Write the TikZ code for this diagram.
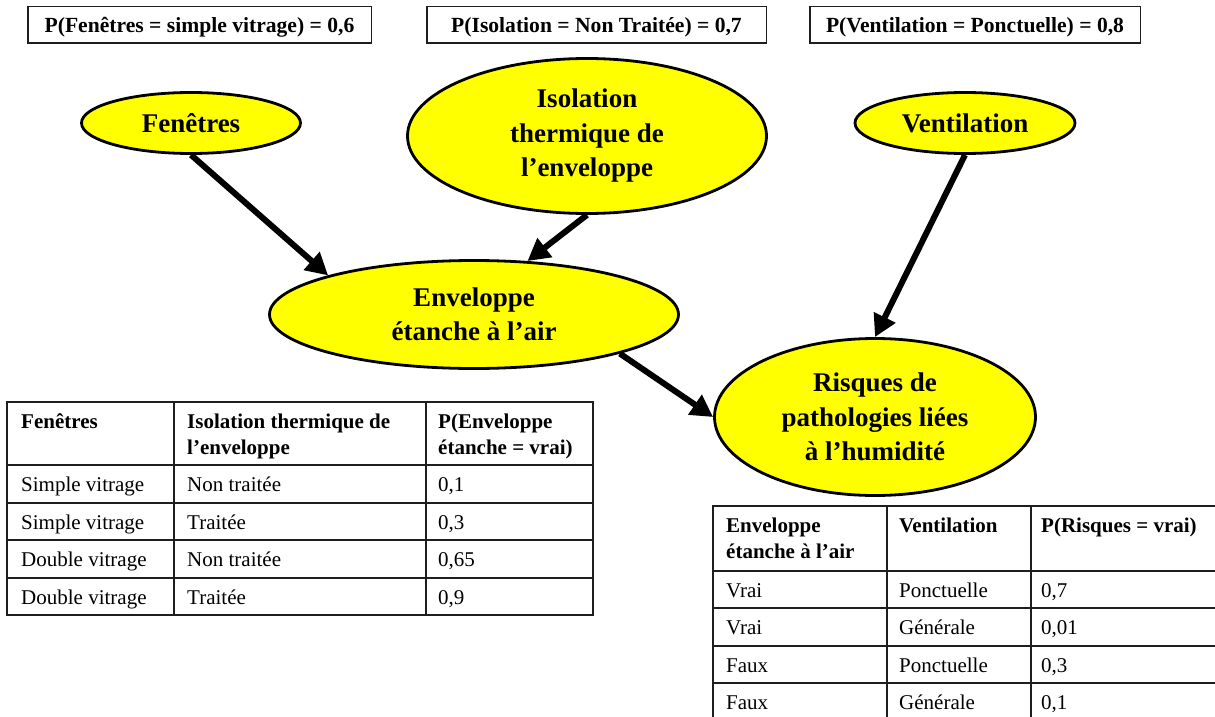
\documentclass[tikz,border=0pt]{standalone}
\usepackage{fontspec}
\setmainfont{Liberation Serif}
\usetikzlibrary{shapes.geometric,arrows.meta}
\definecolor{nodeyellow}{RGB}{255,255,0}
\definecolor{gridgray}{RGB}{30,30,30}
\begin{document}
\begin{tikzpicture}[x=1pt,y=-1pt,
  ell/.style={ellipse, draw=black, line width=2.8pt, fill=nodeyellow, inner sep=0pt, align=center, font=\fontsize{27}{34.5}\selectfont\bfseries},
  pbox/.style={draw=gridgray, line width=1.5pt, inner sep=0pt, minimum height=36.5pt, text height=15pt, text depth=0pt, font=\fontsize{21.6}{26}\selectfont\bfseries},
  arr/.style={line width=6pt, -{Triangle[length=22pt,width=23pt]}},
  gridline/.style={draw=gridgray, line width=1.3pt, line cap=rect},
  cell/.style={anchor=base west, inner sep=0pt, font=\fontsize{21}{26}\selectfont},
  hcell/.style={cell, font=\fontsize{21}{26}\selectfont\bfseries},
]
\useasboundingbox (0,0) rectangle (1215,717);
\clip (0,0) rectangle (1215,717);

% prior probability boxes
\node[pbox, minimum width=343.5pt] (pf) at (199.5,25) {P(Fenêtres = simple vitrage) = 0,6};
\node[pbox, minimum width=339.5pt] (pi) at (596.5,25) {P(Isolation = Non Traitée) = 0,7};
\node[pbox, minimum width=330.5pt] (pv) at (975,25) {P(Ventilation = Ponctuelle) = 0,8};

% network nodes
\node[ell, minimum width=219pt, minimum height=61pt] (fen) at (191,123) {Fenêtres};
\node[ell, minimum width=359pt, minimum height=155pt] (iso) at (587,136) {Isolation\\thermique de\\l’enveloppe};
\node[ell, minimum width=220pt, minimum height=61pt] (ven) at (965,123) {Ventilation};
\node[ell, minimum width=409pt, minimum height=108pt] (env) at (474,314.5) {Enveloppe\\étanche à l’air};
\node[ell, minimum width=321pt, minimum height=157pt] (ris) at (875,417) {Risques de\\pathologies liées\\à l’humidité};

% arrows
\draw[arr] (fen.south) -- (env.165);
\draw[arr] (iso.south) -- (env.45);
\draw[arr] (ven.south) -- (ris.north);
\draw[arr] (env.-15) -- (ris.west);

% left table grid
\draw[gridline] (7,402) rectangle (593,615);
\foreach \yy in {465,503,540,578} \draw[gridline] (7,\yy) -- (593,\yy);
\foreach \xx in {174,426} \draw[gridline] (\xx,402) -- (\xx,615);

% left table text
\node[hcell] (lh1) at (21,428) {Fenêtres};
\node[hcell] (lh2) at (187,428) {\parbox[t]{235pt}{\raggedright Isolation thermique de\\l’enveloppe}};
\node[hcell] (lh3) at (438,428) {\parbox[t]{150pt}{\raggedright P(Enveloppe\\étanche = vrai)}};
\node[cell] (l11) at (21,491) {Simple vitrage};
\node[cell] (l12) at (187,491) {Non traitée};
\node[cell] (l13) at (438,491) {0,1};
\node[cell] (l21) at (21,529) {Simple vitrage};
\node[cell] (l22) at (187,529) {Traitée};
\node[cell] (l23) at (438,529) {0,3};
\node[cell] (l31) at (21,566) {Double vitrage};
\node[cell] (l32) at (187,566) {Non traitée};
\node[cell] (l33) at (438,566) {0,65};
\node[cell] (l41) at (21,604) {Double vitrage};
\node[cell] (l42) at (187,604) {Traitée};
\node[cell] (l43) at (438,604) {0,9};

% right table grid (cut by the picture edge)
\foreach \yy in {506,571,608,646,683} \draw[gridline] (713,\yy) -- (1240,\yy);
\foreach \xx in {713,887,1031} \draw[gridline] (\xx,506) -- (\xx,740);

% right table text
\node[hcell] (rh1) at (726,532) {\parbox[t]{160pt}{\raggedright Enveloppe\\étanche à l’air}};
\node[hcell] (rh2) at (899,532) {Ventilation};
\node[hcell] (rh3) at (1041,532) {P(Risques = vrai)};
\node[cell] (r11) at (726,597) {Vrai};
\node[cell] (r12) at (899,597) {Ponctuelle};
\node[cell] (r13) at (1041,597) {0,7};
\node[cell] (r21) at (726,634) {Vrai};
\node[cell] (r22) at (899,634) {Générale};
\node[cell] (r23) at (1041,634) {0,01};
\node[cell] (r31) at (726,672) {Faux};
\node[cell] (r32) at (899,672) {Ponctuelle};
\node[cell] (r33) at (1041,672) {0,3};
\node[cell] (r41) at (726,709) {Faux};
\node[cell] (r42) at (899,709) {Générale};
\node[cell] (r43) at (1041,709) {0,1};
\end{tikzpicture}
\end{document}
